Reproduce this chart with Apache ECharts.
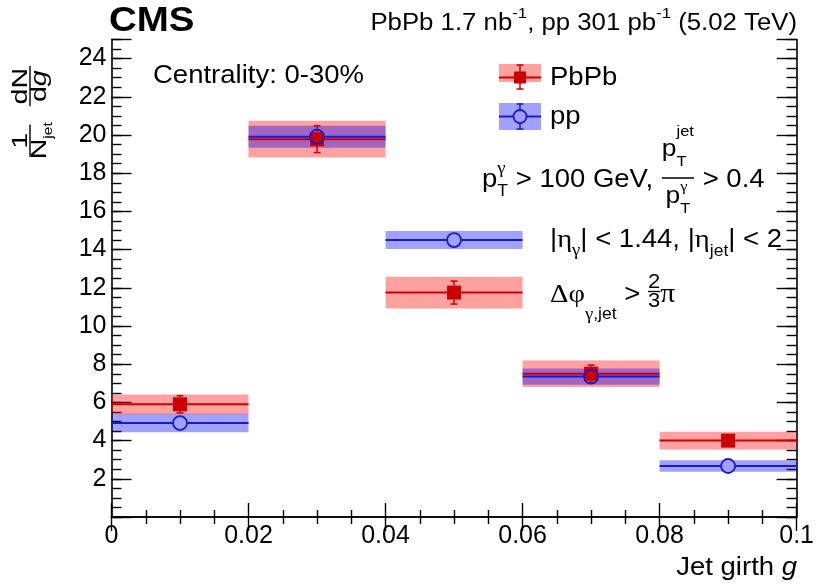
<!DOCTYPE html>
<html>
<head>
<meta charset="utf-8">
<script src="https://cdn.jsdelivr.net/npm/echarts@6/dist/echarts.min.js"></script>
<style>
  html, body { margin: 0; padding: 0; background: #fff; }
  #chart { width: 817px; height: 585px; }
</style>
</head>
<body>
<div id="chart"></div>
<script>
// Jet girth bins
const binLow    = [0.00, 0.02, 0.04, 0.06, 0.08];
const binHigh   = [0.02, 0.04, 0.06, 0.08, 0.10];
const binCenter = [0.01, 0.03, 0.05, 0.07, 0.09];

// PbPb, centrality 0-30%
const pbpbValue = [5.90, 19.78, 11.75, 7.50, 4.00];
const pbpbStat  = [0.45, 0.70, 0.60, 0.45, 0.25];
const pbpbSyst  = [0.52, 0.96, 0.83, 0.70, 0.46];

// pp reference
const ppValue = [4.92, 19.91, 14.50, 7.35, 2.67];
const ppStat  = [0.20, 0.30, 0.25, 0.20, 0.15];
const ppSyst  = [0.48, 0.58, 0.47, 0.42, 0.30];

// Axis tick labels
const xTickValues = [0, 0.02, 0.04, 0.06, 0.08, 0.1];
const xTickLabels = ['0', '0.02', '0.04', '0.06', '0.08', '0.1'];
const yTickValues = [2, 4, 6, 8, 10, 12, 14, 16, 18, 20, 22, 24];
const yTickLabels = ['2', '4', '6', '8', '10', '12', '14', '16', '18', '20', '22', '24'];

const RED = '#cc0000';
const BLUE = '#1a1acc';
const RED_FILL = 'rgba(255,0,0,0.37)';
const BLUE_FILL = 'rgba(0,0,255,0.37)';
const MARKER_HALF = 7;   // half size of the point markers, px

const SANS = '"Liberation Sans", Arial, Helvetica, sans-serif';
const SERIF = '"Liberation Serif", "Times New Roman", serif';

// ---------- small text layout helpers (sub/superscripts, fractions) ----------
const mctx = document.createElement('canvas').getContext('2d');
function fontStr(p) {
  return (p.italic ? 'italic ' : '') + (p.bold ? 'bold ' : '') + p.s + 'px ' + (p.greek ? SERIF : SANS);
}
function textWidth(t, font) { mctx.font = font; mctx.textBaseline = 'alphabetic'; return mctx.measureText(t).width; }
function midOffset(font) {
  mctx.font = font; mctx.textBaseline = 'middle';
  const m = mctx.measureText('H');
  mctx.textBaseline = 'alphabetic';
  return m.actualBoundingBoxDescent;
}
function layoutRun(pieces) {
  const kids = [];
  let x = 0, held = null;
  for (const p of pieces) {
    if (p.frac) {
      const num = layoutRun(p.num), den = layoutRun(p.den);
      const pad = p.pad == null ? 2 : p.pad;
      const inner = p.lineW != null ? p.lineW : Math.max(num.width, den.width);
      const w = inner + 2 * pad;
      kids.push({ type: 'group', x: x + (w - num.width) / 2, y: p.numDy, children: num.children });
      kids.push({ type: 'group', x: x + (w - den.width) / 2, y: p.denDy, children: den.children });
      kids.push({ type: 'line', shape: { x1: x + pad, y1: p.lineDy, x2: x + w - pad, y2: p.lineDy },
                  style: { stroke: '#000', lineWidth: p.lw || 1.4 } });
      x += w + (p.gap || 0);
      continue;
    }
    const font = fontStr(p);
    const w = textWidth(p.t, font);
    kids.push({
      type: 'text', x: x + (p.dx || 0), y: (p.dy || 0) - midOffset(font),
      style: { text: p.t, font: font, fill: '#000', align: 'left', verticalAlign: 'middle' }
    });
    if (p.hold) { held = w; }
    else { x += Math.max(w, held || 0) + (p.gap || 0); held = null; }
  }
  return { children: kids, width: x };
}
// place a run with its baseline at y; align 'left' or 'right'
function textBlock(pieces, x, y, align, sx) {
  sx = sx || 1.1;
  const r = layoutRun(pieces);
  const x0 = align === 'right' ? x - r.width * sx : x;
  return { type: 'group', x: x0, y: y, scaleX: sx, children: r.children, silent: true };
}

// ---------- series builders ----------
function systBoxes(name, values, syst, fill, z) {
  return {
    type: 'custom', name: name, z: z, silent: true,
    xAxisIndex: 0, yAxisIndex: 0,
    data: values.map((v, i) => [binLow[i], binHigh[i], v - syst[i], v + syst[i]]),
    encode: { x: [0, 1], y: [2, 3] },
    renderItem: function (params, api) {
      const a = api.coord([api.value(0), api.value(3)]);
      const b = api.coord([api.value(1), api.value(2)]);
      return { type: 'rect', shape: { x: a[0], y: a[1], width: b[0] - a[0], height: b[1] - a[1] },
               style: { fill: fill } };
    }
  };
}
// bin-width line and statistical bar; both stop at the marker edge
function errorLines(name, values, stat, color, z) {
  return {
    type: 'custom', name: name, z: z, silent: true,
    xAxisIndex: 0, yAxisIndex: 0,
    data: values.map((v, i) => [binLow[i], binHigh[i], binCenter[i], v, v - stat[i], v + stat[i]]),
    encode: { x: [0, 1, 2], y: [3, 4, 5] },
    renderItem: function (params, api) {
      const l = api.coord([api.value(0), api.value(3)]);
      const r = api.coord([api.value(1), api.value(3)]);
      const c = api.coord([api.value(2), api.value(3)]);
      const lo = api.coord([api.value(2), api.value(4)]);
      const hi = api.coord([api.value(2), api.value(5)]);
      const st = { stroke: color, lineWidth: 2 };
      const thin = { stroke: color, lineWidth: 1.5 };
      const cap = 3.5, m = MARKER_HALF;
      const kids = [
        { type: 'line', shape: { x1: l[0], y1: l[1], x2: c[0] - m, y2: c[1] }, style: st },
        { type: 'line', shape: { x1: c[0] + m, y1: c[1], x2: r[0], y2: r[1] }, style: st }
      ];
      if (c[1] - hi[1] > m) {
        kids.push({ type: 'line', shape: { x1: c[0], y1: c[1] - m, x2: hi[0], y2: hi[1] }, style: thin });
        kids.push({ type: 'line', shape: { x1: hi[0] - cap, y1: hi[1], x2: hi[0] + cap, y2: hi[1] }, style: thin });
      }
      if (lo[1] - c[1] > m) {
        kids.push({ type: 'line', shape: { x1: c[0], y1: c[1] + m, x2: lo[0], y2: lo[1] }, style: thin });
        kids.push({ type: 'line', shape: { x1: lo[0] - cap, y1: lo[1], x2: lo[0] + cap, y2: lo[1] }, style: thin });
      }
      return { type: 'group', children: kids };
    }
  };
}

// ---------- axes ----------
const axisFont = { fontFamily: SANS, fontSize: 25, color: '#000' };
const frameLine = { show: true, lineStyle: { color: '#000', width: 1.6 } };
function xAxisDef(position, showLabels) {
  return {
    type: 'value', position: position, min: 0, max: 0.1, interval: 0.02,
    axisLine: frameLine,
    axisTick: { show: true, inside: true, length: 14, lineStyle: { color: '#000', width: 1.4 } },
    minorTick: { show: true, splitNumber: 4, length: 7, lineStyle: { color: '#000', width: 1.4 } },
    splitLine: { show: false }, minorSplitLine: { show: false },
    axisLabel: Object.assign({
      show: showLabels, margin: 7,
      formatter: function (v) {
        const i = xTickValues.findIndex(t => Math.abs(t - v) < 1e-9);
        return i >= 0 ? xTickLabels[i] : '';
      }
    }, axisFont)
  };
}
function yAxisDef(position, interval, len, showLabels) {
  return {
    type: 'value', position: position, min: 0, max: 25, interval: interval,
    axisLine: interval === 2 ? frameLine : { show: false },
    axisTick: { show: true, inside: true, length: len, lineStyle: { color: '#000', width: 1.4 } },
    splitLine: { show: false },
    axisLabel: Object.assign({
      show: showLabels, margin: 5,
      formatter: function (v) {
        const i = yTickValues.findIndex(t => Math.abs(t - v) < 1e-9);
        return i >= 0 ? yTickLabels[i] : '';
      }
    }, axisFont)
  };
}

// ---------- annotations ----------
const gam = (s, dy) => ({ t: 'γ', s: s, dy: dy, greek: true });
const graphics = [
  textBlock([{ t: 'CMS', s: 35, bold: true }], 109, 30.5, 'left', 1.1),
  textBlock([
    { t: 'PbPb 1.7 nb', s: 23 }, { t: '-1', s: 15, dy: -12 },
    { t: ', pp 301 pb', s: 23 }, { t: '-1', s: 15, dy: -12 },
    { t: ' (5.02 TeV)', s: 23 }
  ], 797, 30, 'right', 1.12),
  textBlock([{ t: 'Centrality: 0-30%', s: 25 }], 153, 83, 'left', 1.1),
  textBlock([{ t: 'PbPb', s: 25 }], 550, 84.5, 'left', 1.1),
  textBlock([{ t: 'pp', s: 25 }], 550, 124, 'left', 1.1),
  textBlock([
    { t: 'p', s: 25 }, Object.assign(gam(17, -14), { hold: true }), { t: 'T', s: 16, dy: 9 },
    { t: ' > 100 GeV, ', s: 25 },
    { frac: true, lineDy: -9, numDy: -31, denDy: 16, pad: 1,
      num: [{ t: 'p', s: 24 }, { t: 'jet', s: 15, dy: -20, hold: true }, { t: 'T', s: 15, dy: 10 }],
      den: [{ t: 'p', s: 24 }, Object.assign(gam(15, -12), { hold: true }), { t: 'T', s: 15, dy: 10 }] },
    { t: ' > 0.4', s: 25 }
  ], 482, 187, 'left', 1.1),
  textBlock([
    { t: '|', s: 25 }, { t: 'η', s: 26, greek: true }, gam(17, 8), { t: '| < 1.44, |', s: 25 },
    { t: 'η', s: 26, greek: true }, { t: 'jet', s: 16, dy: 9 }, { t: '| < 2', s: 25 }
  ], 550, 246.5, 'left', 1.1),
  textBlock([
    { t: 'Δφ', s: 26, greek: true }, gam(17, 17), { t: ',jet', s: 16, dy: 17 }, { t: ' > ', s: 25 },
    { frac: true, lineDy: -10, numDy: -14, denDy: 5, pad: 0, lw: 1.3,
      num: [{ t: '2', s: 20 }], den: [{ t: '3', s: 20 }] },
    { t: 'π', s: 27, greek: true }
  ], 550, 301.5, 'left', 1.1),
  textBlock([{ t: 'Jet girth ', s: 25 }, { t: 'g', s: 25, italic: true }], 797, 575, 'right', 1.1),
  // y-axis title, written bottom-to-top
  {
    type: 'group', x: 30, y: 160, rotation: Math.PI / 2, silent: true,
    children: [textBlock([
      { frac: true, lineDy: 0, numDy: -3, denDy: 16, pad: 0, lineW: 25, gap: 14,
        num: [{ t: '1', s: 22 }], den: [{ t: 'N', s: 22 }, { t: 'jet', s: 12, dy: 6 }] },
      { frac: true, lineDy: 0, numDy: -3, denDy: 16, pad: 0, lineW: 31,
        num: [{ t: 'dN', s: 22 }], den: [{ t: 'd', s: 22 }, { t: 'g', s: 22, italic: true }] }
    ], 3, 0, 'left', 1.3)]
  },
  // legend: PbPb
  { type: 'rect', shape: { x: 499, y: 64, width: 42, height: 18 }, style: { fill: RED_FILL }, silent: true },
  { type: 'line', shape: { x1: 499, y1: 77.5, x2: 541, y2: 77.5 }, style: { stroke: RED, lineWidth: 2 }, silent: true },
  { type: 'line', shape: { x1: 520, y1: 65, x2: 520, y2: 89 }, style: { stroke: RED, lineWidth: 1.5 }, silent: true },
  { type: 'line', shape: { x1: 516.5, y1: 65, x2: 523.5, y2: 65 }, style: { stroke: RED, lineWidth: 1.5 }, silent: true },
  { type: 'line', shape: { x1: 516.5, y1: 89, x2: 523.5, y2: 89 }, style: { stroke: RED, lineWidth: 1.5 }, silent: true },
  { type: 'rect', shape: { x: 514, y: 71.5, width: 12, height: 12 }, style: { fill: RED }, silent: true },
  // legend: pp
  { type: 'rect', shape: { x: 499, y: 103, width: 42, height: 27 }, style: { fill: BLUE_FILL }, silent: true },
  { type: 'line', shape: { x1: 499, y1: 116.5, x2: 513.5, y2: 116.5 }, style: { stroke: BLUE, lineWidth: 2 }, silent: true },
  { type: 'line', shape: { x1: 526.5, y1: 116.5, x2: 541, y2: 116.5 }, style: { stroke: BLUE, lineWidth: 2 }, silent: true },
  { type: 'line', shape: { x1: 520, y1: 104, x2: 520, y2: 129 }, style: { stroke: BLUE, lineWidth: 1.5 }, silent: true },
  { type: 'line', shape: { x1: 516.5, y1: 104, x2: 523.5, y2: 104 }, style: { stroke: BLUE, lineWidth: 1.5 }, silent: true },
  { type: 'line', shape: { x1: 516.5, y1: 129, x2: 523.5, y2: 129 }, style: { stroke: BLUE, lineWidth: 1.5 }, silent: true },
  { type: 'circle', shape: { cx: 520, cy: 116.5, r: 6.5 }, style: { fill: 'rgb(160,160,255)', stroke: BLUE, lineWidth: 1.8 }, silent: true }
];

const chart = echarts.init(document.getElementById('chart'), null, { renderer: 'canvas' });
chart.setOption({
  animation: false,
  backgroundColor: '#fff',
  grid: { left: 111.5, right: 19, top: 39.5, bottom: 68, containLabel: false },
  xAxis: [xAxisDef('bottom', true), xAxisDef('top', false)],
  yAxis: [
    yAxisDef('left', 2, 20, true), yAxisDef('left', 0.5, 10, false),
    yAxisDef('right', 2, 20, false), yAxisDef('right', 0.5, 10, false)
  ],
  series: [
    systBoxes('PbPb syst', pbpbValue, pbpbSyst, RED_FILL, 1),
    systBoxes('pp syst', ppValue, ppSyst, BLUE_FILL, 2),
    errorLines('PbPb', pbpbValue, pbpbStat, RED, 3),
    errorLines('pp', ppValue, ppStat, BLUE, 4),
    {
      type: 'scatter', name: 'PbPb points', z: 5, silent: true,
      symbol: 'rect', symbolSize: 14,
      itemStyle: { color: RED, opacity: 1 },
      data: binCenter.map((x, i) => [x, pbpbValue[i]])
    },
    {
      type: 'scatter', name: 'pp points', z: 6, silent: true,
      symbol: 'circle', symbolSize: 14,
      itemStyle: { color: 'rgba(0,0,0,0)', borderColor: BLUE, borderWidth: 1.8, opacity: 1 },
      data: binCenter.map((x, i) => [x, ppValue[i]])
    }
  ],
  graphic: { elements: graphics }
});
</script>
</body>
</html>
